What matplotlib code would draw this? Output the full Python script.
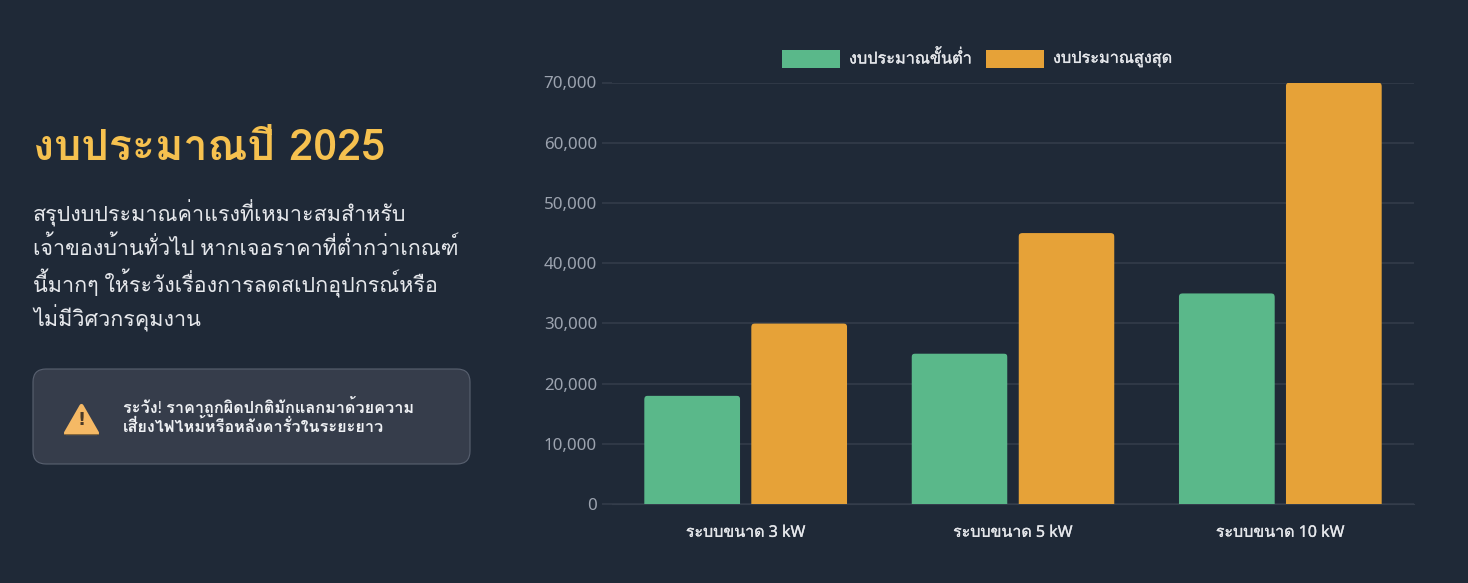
import matplotlib
matplotlib.use('Agg')
import matplotlib.pyplot as plt
import matplotlib.patheffects as pe
import numpy as np
from matplotlib.patches import FancyBboxPatch, Polygon, Rectangle
from matplotlib.ticker import FuncFormatter
from matplotlib.transforms import IdentityTransform

plt.rcParams['font.family'] = ['Noto Sans', 'Loma', 'DejaVu Sans']

categories = ['ระบบขนาด 3 kW', 'ระบบขนาด 5 kW', 'ระบบขนาด 10 kW']
budget_min = [18000, 25000, 35000]
budget_max = [30000, 45000, 70000]
series_names = ['งบประมาณขั้นต่ำ', 'งบประมาณสูงสุด']
y_ticks = [0, 10000, 20000, 30000, 40000, 50000, 60000, 70000]

title = 'งบประมาณปี 2025'
body_lines = ['สรุปงบประมาณค่าแรงที่เหมาะสมสำหรับ',
              'เจ้าของบ้านทั่วไป หากเจอราคาที่ต่ำกว่าเกณฑ์',
              'นี้มากๆ ให้ระวังเรื่องการลดสเปกอุปกรณ์หรือ',
              'ไม่มีวิศวกรคุมงาน']
warn_lines = ['ระวัง! ราคาถูกผิดปกติมักแลกมาด้วยความ',
              'เสี่ยงไฟไหม้หรือหลังคารั่วในระยะยาว']

BG = '#1f2937'
GREEN = '#5ab88a'
ORANGE = '#e6a238'
LABEL = '#e5e7eb'
W, H = 1468, 583


def medium(color):
    # Loma only has regular and bold, so thicken the regular a little
    return [pe.withStroke(linewidth=0.2, foreground=color)]


fig = plt.figure(figsize=(W / 100, H / 100), dpi=100, facecolor=BG)

# left panel, drawn in pixel coordinates
left = fig.add_axes([0, 0, 1, 1])
left.set_xlim(0, W)
left.set_ylim(H, 0)
left.axis('off')

left.text(33, 148, title, color='#f6c14f', fontsize=31, fontweight='bold', va='center',
          family=['Loma', 'Noto Sans'])
for i, line in enumerate(body_lines):
    left.text(33, 213 + i * 35.1, line, color=LABEL, fontsize=15.5, va='center')

left.add_patch(FancyBboxPatch((33, 369), 437, 95, boxstyle='round,pad=0,rounding_size=13',
                              fc='#363d4b', ec='#596170', lw=0.8))
left.add_patch(Polygon([[81.5, 406], [97, 433], [66, 433]], closed=True, fc='#f5b965',
                       ec='#f5b965', lw=3, joinstyle='round'))
left.add_patch(Rectangle((64, 433.5), 35, 1.5, fc='#8a6a3c', ec='none'))
left.text(81.5, 420, '!', color='#4a3a28', fontsize=13, fontweight='bold', ha='center', va='center',
          family='DejaVu Sans')
for i, line in enumerate(warn_lines):
    left.text(123, 406 + i * 22, line, color='#eef0f3', fontsize=11.7, fontweight='bold', va='center')

# bar chart
x0, x1, y_top, y_bot = 612, 1414, 82.5, 504
ax = fig.add_axes([x0 / W, 1 - y_bot / H, (x1 - x0) / W, (y_bot - y_top) / H])
ax.set_facecolor('none')

x = np.arange(len(categories))
bar_w = 96 / ((x1 - x0) / 3)
gap = 107 / ((x1 - x0) / 3) / 2
bars_a = ax.bar(x - gap, budget_min, bar_w, color=GREEN, zorder=3)
bars_b = ax.bar(x + gap, budget_max, bar_w, color=ORANGE, zorder=3)
ax.set_xlim(-0.5, 2.5)
ax.set_ylim(0, 70000)
ax.set_xticks(x)
ax.set_xticklabels(categories)
ax.set_yticks(y_ticks)
ax.yaxis.set_major_formatter(FuncFormatter(lambda v, p: f'{int(v):,}'))
ax.grid(axis='y', color='#343d4b', lw=1.1, zorder=0)
ax.tick_params(axis='y', length=7.2, width=1.1, color='#343d4b', labelcolor='#9ca3af', labelsize=12.2, pad=3.6)
ax.tick_params(axis='x', length=0, labelcolor=LABEL, labelsize=11.5, pad=15)
for s in ax.spines.values():
    s.set_visible(False)
ax.spines['bottom'].set_visible(True)
ax.spines['bottom'].set_color('#343d4b')
for lab in ax.get_xticklabels():
    lab.set_path_effects(medium(LABEL))

# rounded top corners: clip each bar against a rounded box in pixels
fig.canvas.draw()
for bar in list(bars_a) + list(bars_b):
    bb = bar.get_window_extent()
    bar.set_snap(False)
    clip = FancyBboxPatch((bb.x0, bb.y0 - 10), bb.width, bb.height + 10,
                          boxstyle='round,pad=0,rounding_size=4', transform=IdentityTransform())
    bar.set_clip_path(clip)

# legend swatches sit in pixel space, like the rest of the left panel
for sx, name, col in [(782, series_names[0], GREEN), (986, series_names[1], ORANGE)]:
    left.add_patch(Rectangle((sx, 50), 58, 18, fc=col, ec='none'))
    left.text(sx + 67, 59, name, color=LABEL, fontsize=11.7, va='center', path_effects=medium(LABEL))

fig.savefig('out.png', dpi=100, facecolor=BG)
